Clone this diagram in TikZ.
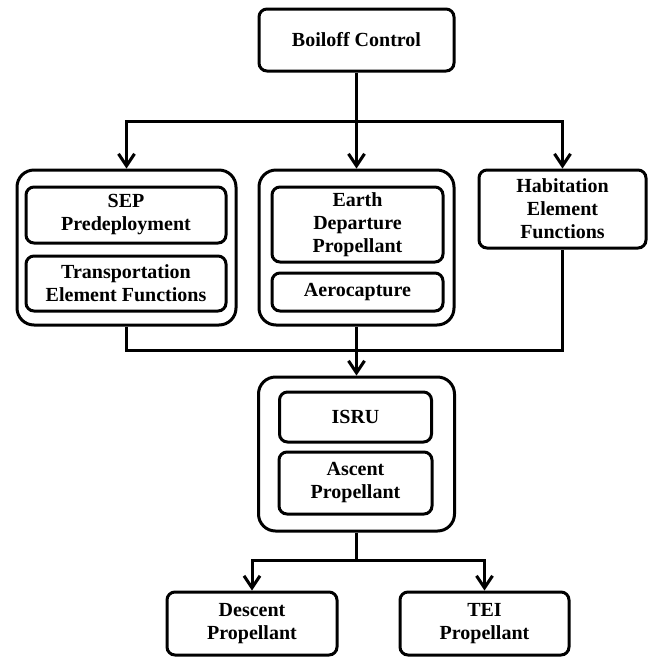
\documentclass[tikz,border=0pt]{standalone}
\usepackage{fontspec}
\setmainfont{Liberation Serif}
\usetikzlibrary{arrows.meta}

\begin{document}
\begin{tikzpicture}[x=1pt,y=-1pt,line width=3pt,
  box/.style={draw,rounded corners=8pt,align=center,inner sep=0pt,
    font=\bfseries\fontsize{20}{23}\selectfont},
  grp/.style={draw,rounded corners=17pt,inner sep=0pt},
  arr/.style={-{Straight Barb[length=12pt,width=16pt]}}]
\useasboundingbox (0,0) rectangle (652,657);
% top
\node [box, minimum width=195, minimum height=62] (boil) at (356.5,40) {Boiloff Control};
% second level
\node [grp, minimum width=219, minimum height=155] (leftgrp) at (126.5,247.5) {};
\node [box, minimum width=200, minimum height=56] (sep) at (126,215) {SEP\\Predeployment};
\node [box, minimum width=200, minimum height=55] (trans) at (126,283.5) {Transportation\\Element Functions};
\node [grp, minimum width=195, minimum height=155] (midgrp) at (356.5,247.5) {};
\node [box, minimum width=171, minimum height=75] (earth) at (357.5,224.5) {Earth\\Departure\\Propellant};
\node [box, minimum width=171, minimum height=38] (aero) at (357.5,292) {Aerocapture};
\node [box, minimum width=167, minimum height=78] (hab) at (562.5,209) {Habitation\\Element\\Functions};
% surface
\node [grp, minimum width=196, minimum height=154] (isrugrp) at (356.5,454) {};
\node [box, minimum width=152, minimum height=50] (isru) at (355.5,417) {ISRU};
\node [box, minimum width=153, minimum height=62] (ascent) at (355.5,483) {Ascent\\Propellant};
% bottom
\node [box, minimum width=170, minimum height=63] (desc) at (252,623.5) {Descent\\Propellant};
\node [box, minimum width=169, minimum height=63] (tei) at (484.5,623.5) {TEI\\Propellant};
% connectors
\coordinate (split) at (356.5,121);
\coordinate (merge) at (356.5,350);
\coordinate (fork) at (356.5,560);
\draw [arr] (boil) -- (midgrp);
\draw [arr] (split) -| (leftgrp);
\draw [arr] (split) -| (hab);
\draw (leftgrp) |- (merge) -| (hab);
\draw [arr] (midgrp) -- (isrugrp);
\draw (isrugrp) -- (fork);
\draw [arr] (fork) -| (desc);
\draw [arr] (fork) -| (tei);
\end{tikzpicture}
\end{document}
